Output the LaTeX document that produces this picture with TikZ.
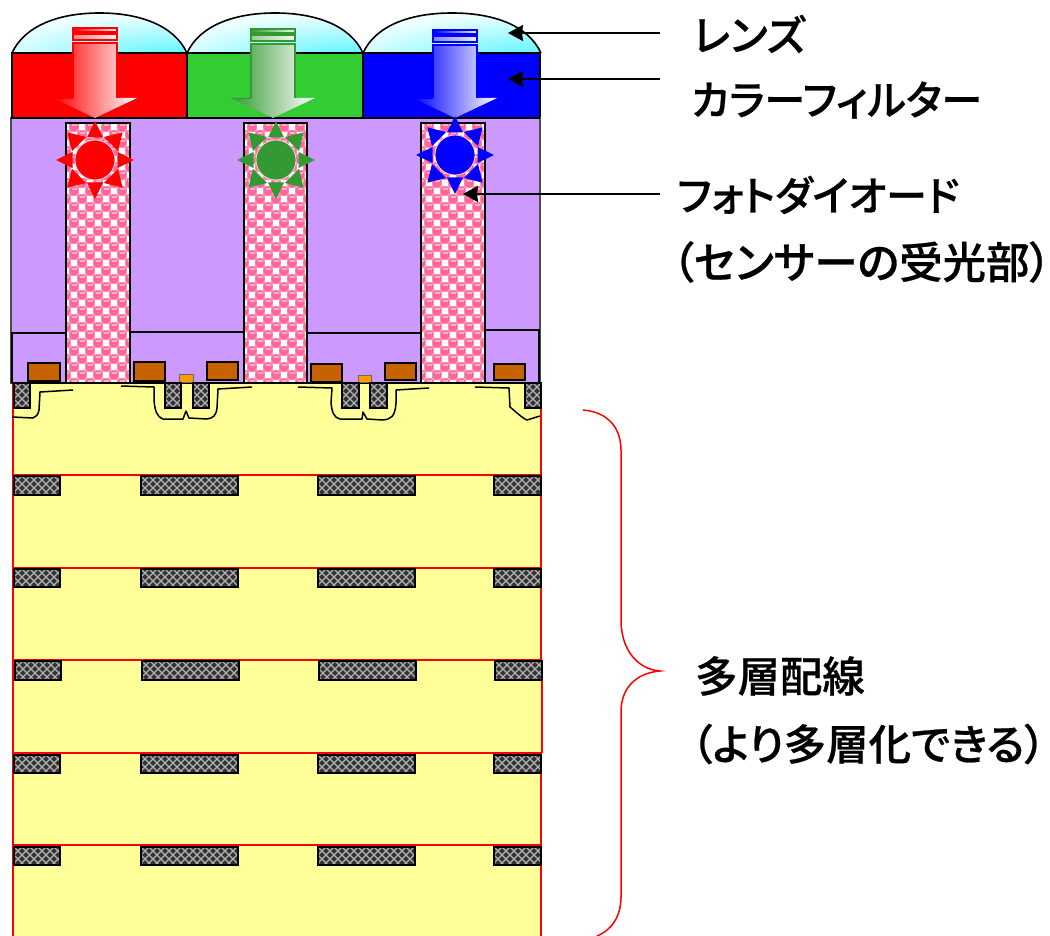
\documentclass[tikz,border=0pt]{standalone}
\usepackage{fontspec}
\usetikzlibrary{arrows.meta}
\newfontfamily\cjk[RawFeature=+palt,FakeBold=0.6]{Noto Sans CJK JP Medium}
\definecolor{lensc}{HTML}{5CF4FF}
\definecolor{lensw}{HTML}{EEFFFF}
\definecolor{grn}{HTML}{33CC33}
\definecolor{dgrn}{HTML}{339933}
\definecolor{purp}{HTML}{CC99FF}
\definecolor{pinkc}{HTML}{FF6699}
\definecolor{pinkl}{HTML}{FFB0CC}
\definecolor{brownc}{HTML}{C66300}
\definecolor{orangec}{HTML}{FF9900}
\definecolor{yel}{HTML}{FFFF99}
\tikzset{
 blk/.style={draw=black,line width=2pt},
 well/.style={draw=black,line width=1.5pt,line join=round},
 redln/.style={draw=red,line width=2pt},
 lab/.style={anchor=west,inner sep=0pt,font=\cjk\fontsize{#1}{#1}\selectfont},
 pointer/.style={draw=black,line width=2pt,-{Stealth[length=15pt,width=16pt,inset=1pt]}},
}
\newcommand{\lensshape}[2]{%
 \begin{scope}
 \clip (#1,53) .. controls ({#1+13},25) and ({#1+48},13) .. ({(#1+#2)/2},13)
   .. controls ({#2-48},13) and ({#2-13},25) .. (#2,53) -- cycle;
 \fill[lensw] (#1,0) rectangle (#2,53);
 \shade[inner color=lensc,outer color=lensw] ({#2-5},56) ellipse (200 and 42);
 \end{scope}
 \draw[line width=1.6pt]
   (#1,53) .. controls ({#1+13},25) and ({#1+48},13) .. ({(#1+#2)/2},13)
   .. controls ({#2-48},13) and ({#2-13},25) .. (#2,53);}
\newcommand{\pinkcol}[4]{%
 \begin{scope}
 \clip (#1,#2) rectangle (#3,#4);
 \fill[pinkc!70!white] (#1,#2) rectangle (#3,#4);
 \foreach \i in {0,...,9}{\foreach \j in {0,...,33}{
   \pgfmathparse{int(mod(\i+\j,2))}
   \ifnum\pgfmathresult=0
     \fill[white] ({#1+\i*8-3.3},{#2+\j*8+.7}) rectangle ++(6.6,6.6);
   \fi}}
 \foreach \i in {0,...,9}{\foreach \j in {0,...,33}{
   \pgfmathparse{int(mod(\i+\j,2))}
   \ifnum\pgfmathresult=1
     \fill[pinkc] ({#1+\i*8},{#2+\j*8+4}) circle (4.6);
     \fill[pinkl] ({#1+\i*8-2.5},{#2+\j*8+1.4}) rectangle ++(5,1.4);
   \fi}}
 \end{scope}
 \draw[blk] (#1,#2) rectangle (#3,#4);}
\newcommand{\metal}[4]{%
 \begin{scope}
 \clip (#1,#2) rectangle (#3,#4);
 \fill[black!80] (#1,#2) rectangle (#3,#4);
 \foreach \i in {-4,...,13}{
   \draw[black!30,line width=1.3pt] ({#1+\i*8},{#2}) -- ++(32,32);
   \draw[black!30,line width=1.3pt] ({#1+\i*8},{#2}) -- ++(-32,32);}
 \end{scope}
 \draw[draw=black,line width=1.6pt] (#1,#2) rectangle (#3,#4);}
% center, y-stripe1, colour
\newcommand{\lightarrow}[3]{%
 \def\cx{#1}\def\sy{#2}
 \shade[left color=#3,right color=#3!5!white,draw=#3,line width=1.6pt]
   ({\cx-22},{\sy}) rectangle ({\cx+22},{\sy+4});
 \shade[left color=#3!50!white,right color=#3!5!white,draw=#3,line width=1.6pt]
   ({\cx-22},{\sy+6}) rectangle ({\cx+22},{\sy+12});
 \shade[left color=#3,middle color=#3!22!white,right color=white]
   ({\cx-22},{\sy+15}) -- ({\cx+22},{\sy+15}) -- ({\cx+22},98) -- ({\cx+42},98)
   -- (\cx,118) -- ({\cx-42},98) -- ({\cx-22},98) -- cycle;
 \draw[#3,line width=1.6pt,line join=miter] ({\cx-22},98) -- ({\cx-22},{\sy+15}) -- ({\cx+22},{\sy+15}) -- ({\cx+22},98);
 \draw[#3,line width=.7pt] ({\cx-42},98) -- ({\cx-22},98);}
\newcommand{\sun}[3]{%
 \foreach \a/\w in {0/8,45/10,90/8,135/10,180/8,225/10,270/8,315/10}{
   \fill[#3] ({#1+39*cos(\a)},{#2+39*sin(\a)})
     -- ({#1+22.5*cos(\a)-\w*sin(\a)},{#2+22.5*sin(\a)+\w*cos(\a)})
     -- ({#1+22.5*cos(\a)+\w*sin(\a)},{#2+22.5*sin(\a)-\w*cos(\a)}) -- cycle;}
 \fill[#3,draw=white!70!pinkc,line width=.8pt] (#1,#2) circle (20);}
\begin{document}
\begin{tikzpicture}[x=1pt,y=-1pt]
\useasboundingbox (0,0) rectangle (1050,936);
% lenses
\lensshape{12}{187}
\lensshape{187}{363}
\lensshape{363}{541}
% filters
\fill[red] (12,53) rectangle (187,118);
\fill[grn] (187,53) rectangle (363,118);
\fill[blue] (363,53) rectangle (540,118);
\draw[blk] (12,53) rectangle (187,118);
\draw[blk] (187,53) rectangle (363,118);
\draw[blk] (363,53) rectangle (540,118);
% purple body
\fill[purp,draw=black!70,line width=1.5pt] (11,118) rectangle (540,383);
\draw[blk] (11,118) -- (540,118);
% yellow region and red layers
\fill[yel] (13,383) rectangle (541,936);
\fill[yel] (13,660) rectangle (542,753);
\draw[redln] (13,383) -- (13,936);
\draw[redln] (541,383) -- (541,660);
\draw[redln] (542,660) -- (542,753);
\draw[redln] (541,753) -- (541,936);
\draw[redln] (13,383) -- (541,383);
\draw[redln] (13,475) -- (541,475);
\draw[redln] (13,568) -- (541,568);
\draw[redln] (13,660) -- (542,660);
\draw[redln] (13,753) -- (542,753);
\draw[redln] (13,845) -- (541,845);
% blocks
\draw[line width=1.5pt] (12,383) -- (12,333) -- (66,333);
\draw[line width=1.5pt] (130,332) -- (244,332);
\draw[line width=1.5pt] (307,333) -- (421,333);
\draw[line width=1.5pt] (485,330) -- (539,330) -- (539,383);
\draw[blk] (12,383) -- (540,383);
% photodiode columns
\pinkcol{66}{123}{130}{383}
\pinkcol{244}{123}{307}{383}
\pinkcol{421}{123}{485}{383}
% gates
\foreach \xa/\ya/\xb/\yb in {28/363/60/381,134/362/165/381,207/362/238/380,311/364/342/382,385/363/416/380,494/364/525/380}
 \draw[fill=brownc,line width=1.5pt] (\xa,\ya) rectangle (\xb,\yb);
\fill[orangec,draw=black!60,line width=.8pt] (179,374) rectangle (193,382);
\fill[orangec,draw=black!60,line width=.8pt] (358,375) rectangle (371,382);
% contacts
\metal{14}{383}{30}{408}
\metal{165}{383}{181}{408}
\metal{193}{383}{209}{408}
\metal{342}{383}{359}{408}
\metal{370}{383}{387}{408}
\metal{525}{383}{541}{408}
% wells
\draw[well] (73,390) -- (40,392) -- (39,410) .. controls (38,415) and (36,417) .. (33,418) -- (12,417);
\draw[well] (121,386) -- (154,387) -- (154,400) .. controls (155,410) and (156,416) .. (163,419) -- (183,419) -- (186,411) -- (189,418) -- (207,419) .. controls (213,418) and (216,416) .. (217,408) -- (218,389) -- (252,387);
\draw[well] (298,387) -- (332,388) -- (331,403) .. controls (332,412) and (334,418) .. (340,419) -- (362,419) -- (363,412) -- (367,419) -- (383,420) .. controls (391,419) and (395,417) .. (396,403) -- (396,390) -- (429,388);
\draw[well] (475,387) -- (509,388) -- (510,407) .. controls (515,411) and (522,418) .. (527,420) -- (540,416);
% wiring bars
\foreach \y/\h/\d in {476/19/0,569/18/0,661/19/1,755/18/0,847/18/0}{
 \metal{14+\d}{\y}{60+\d}{\y+\h}
 \metal{141+\d}{\y}{238+\d}{\y+\h}
 \metal{318+\d}{\y}{415+\d}{\y+\h}
 \metal{494+\d}{\y}{541+\d}{\y+\h}
}
% light arrows
\lightarrow{95}{28}{red}
\lightarrow{273}{29}{dgrn}
\lightarrow{455}{30}{blue}
% suns
\sun{95}{160}{red}
\sun{276}{160}{dgrn}
\sun{455}{155}{blue}
% brace
\draw[red,line width=1.5pt] (583,410) .. controls (608,412) and (621,428) .. (621,450)
 -- (621,620) .. controls (621,648) and (636,669) .. (660,671)
 .. controls (636,673) and (621,688) .. (621,712) -- (621,897)
 .. controls (621,916) and (612,930) .. (597,936);
% labels
\node[lab=42] (lens) at (693,34) {レンズ};
\node[lab=41] (filter) at (691,100) {カラーフィルター};
\node[lab=41] (pd) at (677,195) {フォトダイオード};
\node[lab=43.4] (pd2) at (672,262) {（センサーの受光部）};
\node[lab=42.4] (ml) at (695,676) {多層配線};
\node[lab=42.4] (ml2) at (691,744) {（より多層化できる）};
% pointers
\coordinate (lensS) at (660,33); \coordinate (lensT) at (508,33);
\coordinate (filS) at (660,79); \coordinate (filT) at (508,79);
\coordinate (pdS) at (660,194); \coordinate (pdT) at (463,194);
\draw[pointer] (lensS) -- (lensT);
\draw[pointer] (filS) -- (filT);
\draw[pointer] (pdS) -- (pdT);
\end{tikzpicture}
\end{document}
